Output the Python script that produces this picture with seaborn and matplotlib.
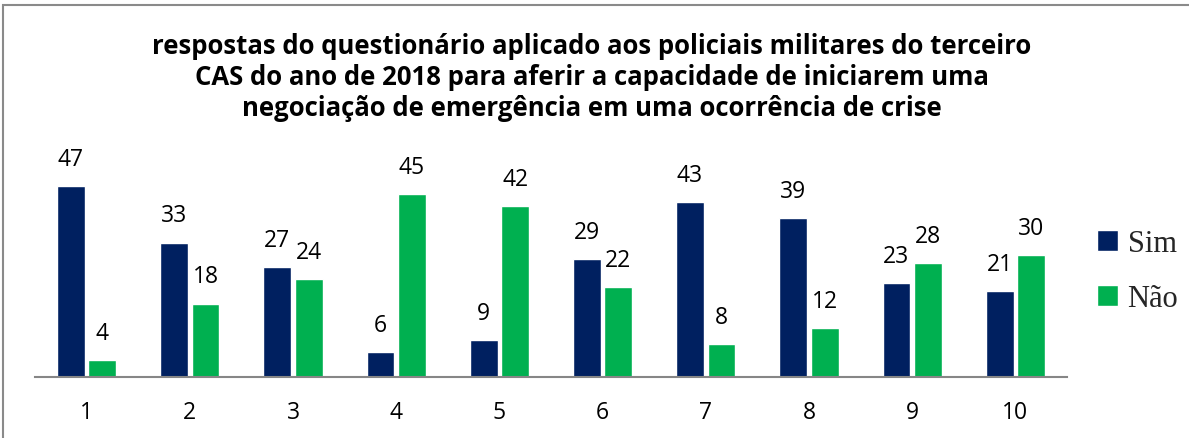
import matplotlib
matplotlib.use("Agg")
import matplotlib.pyplot as plt
import seaborn as sns
import pandas as pd
from matplotlib.patches import Rectangle, Patch

categories = ["1", "2", "3", "4", "5", "6", "7", "8", "9", "10"]
sim = [47, 33, 27, 6, 9, 29, 43, 39, 23, 21]
nao = [4, 18, 24, 45, 42, 22, 8, 12, 28, 30]
series = ["Sim", "Não"]
colors = ["#002060", "#00B050"]
title = ("respostas do questionário aplicado aos policiais militares do terceiro\n"
         "CAS do ano de 2018 para aferir a capacidade de iniciarem uma\n"
         "negociação de emergência em uma ocorrência de crise")

df = pd.DataFrame({
    "questao": categories * 2,
    "resposta": [series[0]] * len(categories) + [series[1]] * len(categories),
    "valor": sim + nao,
})

sns.set_theme(style="white")
plt.rcParams["font.family"] = ["Open Sans", "DejaVu Sans"]

W, H = 1189, 439
fig = plt.figure(figsize=(W / 100, H / 100), dpi=100)
ax = fig.add_axes([35 / W, 1 - 377.7 / H, (1067 - 35) / W, (377.7 - 150) / H])

sns.barplot(data=df, x="questao", y="valor", hue="resposta", order=categories,
            hue_order=series, palette=colors, width=0.61, gap=0.115,
            saturation=1, ax=ax, legend=False)

ax.set_xlim(-0.5, 9.5)
ax.set_ylim(0, (377.7 - 150) / 4.06)
for c in ax.containers:
    ax.bar_label(c, labels=[f"{v:.0f}" for v in c.datavalues], padding=11,
                 fontsize=16.5, color="#000000", family=["Open Sans", "DejaVu Sans"])

ax.set_xlabel("")
ax.set_ylabel("")
ax.set_yticks([])
for s in ["top", "right", "left"]:
    ax.spines[s].set_visible(False)
ax.spines["bottom"].set_color("#868686")
ax.spines["bottom"].set_linewidth(1.5)
ax.tick_params(axis="x", length=0, pad=17, labelsize=16.5, labelcolor="#000000")

fig.text(592 / W, 1 - 33 / H, title, ha="center", va="top", fontsize=18.5,
         fontweight="bold", linespacing=1.18, color="#000000")

handles = [Patch(facecolor=colors[0]), Patch(facecolor=colors[1])]
leg = fig.legend(handles, series, loc="center left", bbox_to_anchor=(1097 / W, 1 - 272 / H),
                 frameon=False, prop={"family": "Liberation Serif", "size": 22},
                 handlelength=0.7, handleheight=0.7, handletextpad=0.3, labelspacing=0.85,
                 borderpad=0, borderaxespad=0)

fig.patches.append(Rectangle((3 / W, -0.05), 1.1, 1 - 6 / H + 0.05, transform=fig.transFigure,
                             fill=False, edgecolor="#8a8a8a", linewidth=1.5))

fig.savefig("out.png", dpi=100)
